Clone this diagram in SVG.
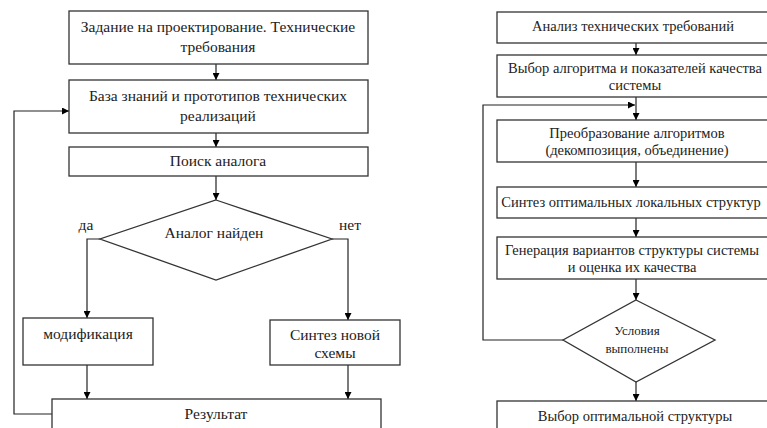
<svg xmlns="http://www.w3.org/2000/svg" width="767" height="428" viewBox="0 0 767 428">
<defs>
<marker id="ah" viewBox="0 0 10 10" refX="10" refY="5" markerWidth="7" markerHeight="7" markerUnits="userSpaceOnUse" orient="auto"><path d="M0,0 L10,5 L0,10 z" fill="#000"/></marker>
<style>
.b{fill:#fff;stroke:#333;stroke-width:1.3}
.c{fill:none;stroke:#222;stroke-width:1.2}
.t{font-family:"Liberation Serif","Times New Roman",serif;font-size:15.5px;fill:#222;text-anchor:middle}
.s{font-family:"Liberation Serif","Times New Roman",serif;font-size:14.5px;fill:#222;text-anchor:middle}
.m{font-family:"Liberation Serif","Times New Roman",serif;font-size:13px;fill:#222;text-anchor:middle}
</style>
</defs>
<rect width="767" height="428" fill="#fff"/>
<g id="connectors">
<line class="c" x1="216" y1="64" x2="216" y2="80" marker-end="url(#ah)"/>
<line class="c" x1="216" y1="133" x2="216" y2="147" marker-end="url(#ah)"/>
<line class="c" x1="216" y1="176" x2="216" y2="200" marker-end="url(#ah)"/>
<polyline class="c" points="100,239 87,239 87,318" marker-end="url(#ah)"/>
<polyline class="c" points="332,239 348,239 348,320" marker-end="url(#ah)"/>
<line class="c" x1="87" y1="365" x2="87" y2="399" marker-end="url(#ah)"/>
<line class="c" x1="348" y1="365" x2="348" y2="399" marker-end="url(#ah)"/>
<polyline class="c" points="52,414 14,414 14,111 69,111" marker-end="url(#ah)"/>
<line class="c" x1="636" y1="43" x2="636" y2="55" marker-end="url(#ah)"/>
<line class="c" x1="636" y1="97" x2="636" y2="120" marker-end="url(#ah)"/>
<polyline class="c" points="563,340 483,340 483,105 635,105" marker-end="url(#ah)"/>
<line class="c" x1="636" y1="162" x2="636" y2="187" marker-end="url(#ah)"/>
<line class="c" x1="636" y1="218" x2="636" y2="237" marker-end="url(#ah)"/>
<line class="c" x1="636" y1="279" x2="636" y2="300" marker-end="url(#ah)"/>
<line class="c" x1="636" y1="382" x2="636" y2="401" marker-end="url(#ah)"/>
</g>
<g id="n1"><rect class="b" x="69" y="11" width="299" height="53"/><text class="t" x="218" y="32">Задание на проектирование. Технические</text><text class="t" x="218" y="52">требования</text></g>
<g id="n2"><rect class="b" x="69" y="80" width="299" height="53"/><text class="t" x="218" y="101">База знаний и прототипов технических</text><text class="t" x="218" y="121">реализаций</text></g>
<g id="n3"><rect class="b" x="69" y="147" width="299" height="29"/><text class="t" x="218" y="166">Поиск аналога</text></g>
<g id="n4"><polygon class="b" points="216,200 332,239 216,280 100,239"/><text class="t" x="214" y="238">Аналог найден</text></g>
<text class="t" x="86" y="230">да</text>
<text class="t" x="350" y="230">нет</text>
<g id="n5"><rect class="b" x="23" y="318" width="130" height="47"/><text class="t" x="88" y="339">модификация</text></g>
<g id="n6"><rect class="b" x="270" y="320" width="130" height="45"/><text class="t" x="335" y="340">Синтез новой</text><text class="t" x="335" y="358">схемы</text></g>
<g id="n7"><rect class="b" x="52" y="399" width="329" height="40"/><text class="t" x="216" y="419">Результат</text></g>
<g id="r1"><rect class="b" x="497" y="12" width="280" height="31"/><text class="s" x="633" y="31">Анализ технических требований</text></g>
<g id="r2"><rect class="b" x="497" y="55" width="280" height="42"/><text class="s" x="635" y="73">Выбор алгоритма и показателей качества</text><text class="s" x="635" y="90">системы</text></g>
<g id="r3"><rect class="b" x="497" y="120" width="280" height="42"/><text class="s" x="637" y="138">Преобразование алгоритмов</text><text class="s" x="637" y="155">(декомпозиция, объединение)</text></g>
<g id="r4"><rect class="b" x="497" y="187" width="280" height="31"/><text class="s" x="631" y="207">Синтез оптимальных локальных структур</text></g>
<g id="r5"><rect class="b" x="497" y="237" width="280" height="42"/><text class="s" x="632" y="255">Генерация вариантов структуры системы</text><text class="s" x="632" y="272">и оценка их качества</text></g>
<g id="r6"><polygon class="b" points="636,300 715,340 636,382 563,340"/><text class="m" x="637" y="335">Условия</text><text class="m" x="637" y="353">выполнены</text></g>
<g id="r7"><rect class="b" x="497" y="401" width="280" height="40"/><text class="s" x="635" y="421">Выбор оптимальной структуры</text></g>
</svg>
